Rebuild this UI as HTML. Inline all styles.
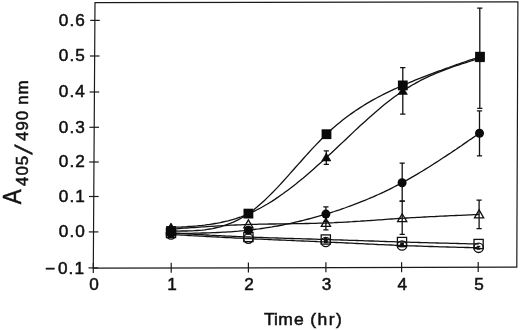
<!DOCTYPE html>
<html><head><meta charset="utf-8"><title>Figure</title>
<style>html,body{margin:0;padding:0;background:#fff}svg{display:block}text{font-family:"Liberation Sans",sans-serif;fill:#111;stroke:#111;stroke-width:0.5px}</style></head><body>
<svg width="520" height="330" viewBox="0 0 520 330">
<rect width="520" height="330" fill="#fff"/>
<g fill="none" stroke="#1a1a1a" stroke-width="1.2">
<path d="M95.0,2.6 L517.9,1.9 L516.8,267.1 L93.3,268.2 Z"/>
<path d="M90.2,20.4 H99.8"/>
<path d="M89.9,56.0 H99.5"/>
<path d="M89.6,92.0 H99.2"/>
<path d="M89.4,127.3 H99.0"/>
<path d="M89.2,162.0 H98.8"/>
<path d="M89.0,196.5 H98.6"/>
<path d="M88.8,231.9 H98.4"/>
<path d="M88.5,267.9 H98.1"/>
<path d="M93.3,263.1 V273.1"/>
<path d="M171.2,262.8 V272.8"/>
<path d="M248.4,262.6 V272.6"/>
<path d="M325.9,262.3 V272.3"/>
<path d="M401.6,262.2 V272.2"/>
<path d="M478.2,261.9 V271.9"/>
</g>
<g fill="none" stroke="#111" stroke-width="1.3" stroke-linejoin="round">
<path d="M171.0,233.0 L173.6,233.1 L176.2,233.3 L178.8,233.4 L181.3,233.6 L183.9,233.7 L186.5,233.9 L189.1,234.0 L191.7,234.2 L194.3,234.3 L196.8,234.5 L199.4,234.6 L202.0,234.7 L204.6,234.9 L207.2,235.0 L209.8,235.2 L212.4,235.3 L214.9,235.4 L217.5,235.6 L220.1,235.7 L222.7,235.8 L225.3,236.0 L227.9,236.1 L230.5,236.2 L233.0,236.3 L235.6,236.4 L238.2,236.6 L240.8,236.7 L243.4,236.8 L246.0,236.9 L248.5,237.0 L251.1,237.1 L253.7,237.2 L256.3,237.3 L258.9,237.4 L261.5,237.5 L264.1,237.6 L266.6,237.7 L269.2,237.8 L271.8,237.9 L274.4,237.9 L277.0,238.0 L279.6,238.1 L282.1,238.2 L284.7,238.3 L287.3,238.4 L289.9,238.4 L292.5,238.5 L295.1,238.6 L297.7,238.7 L300.2,238.7 L302.8,238.8 L305.4,238.9 L308.0,239.0 L310.6,239.0 L313.2,239.1 L315.8,239.2 L318.3,239.3 L320.9,239.4 L323.5,239.4 L326.1,239.5 L328.7,239.6 L331.3,239.7 L333.8,239.8 L336.4,239.8 L339.0,239.9 L341.6,240.0 L344.2,240.1 L346.8,240.2 L349.4,240.3 L351.9,240.4 L354.5,240.4 L357.1,240.5 L359.7,240.6 L362.3,240.7 L364.9,240.8 L367.5,240.9 L370.0,241.0 L372.6,241.0 L375.2,241.1 L377.8,241.2 L380.4,241.3 L383.0,241.4 L385.5,241.5 L388.1,241.6 L390.7,241.6 L393.3,241.7 L395.9,241.8 L398.5,241.9 L401.1,242.0 L403.6,242.0 L406.2,242.1 L408.8,242.2 L411.4,242.3 L414.0,242.4 L416.6,242.4 L419.1,242.5 L421.7,242.6 L424.3,242.6 L426.9,242.7 L429.5,242.8 L432.1,242.8 L434.7,242.9 L437.2,243.0 L439.8,243.1 L442.4,243.1 L445.0,243.2 L447.6,243.2 L450.2,243.3 L452.8,243.4 L455.3,243.4 L457.9,243.5 L460.5,243.6 L463.1,243.6 L465.7,243.7 L468.3,243.8 L470.8,243.8 L473.4,243.9 L476.0,243.9 L478.6,244.0"/>
<path d="M171.0,234.5 L173.6,234.6 L176.2,234.8 L178.8,234.9 L181.3,235.1 L183.9,235.2 L186.5,235.4 L189.1,235.5 L191.7,235.7 L194.3,235.8 L196.8,235.9 L199.4,236.1 L202.0,236.2 L204.6,236.4 L207.2,236.5 L209.8,236.6 L212.4,236.8 L214.9,236.9 L217.5,237.0 L220.1,237.2 L222.7,237.3 L225.3,237.5 L227.9,237.6 L230.5,237.7 L233.0,237.8 L235.6,238.0 L238.2,238.1 L240.8,238.2 L243.4,238.4 L246.0,238.5 L248.5,238.6 L251.1,238.7 L253.7,238.8 L256.3,239.0 L258.9,239.1 L261.5,239.2 L264.1,239.3 L266.6,239.4 L269.2,239.5 L271.8,239.7 L274.4,239.8 L277.0,239.9 L279.6,240.0 L282.1,240.1 L284.7,240.2 L287.3,240.3 L289.9,240.4 L292.5,240.5 L295.1,240.7 L297.7,240.8 L300.2,240.9 L302.8,241.0 L305.4,241.1 L308.0,241.2 L310.6,241.3 L313.2,241.4 L315.8,241.5 L318.3,241.7 L320.9,241.8 L323.5,241.9 L326.1,242.0 L328.7,242.1 L331.3,242.3 L333.8,242.4 L336.4,242.5 L339.0,242.6 L341.6,242.7 L344.2,242.9 L346.8,243.0 L349.4,243.1 L351.9,243.2 L354.5,243.4 L357.1,243.5 L359.7,243.6 L362.3,243.7 L364.9,243.9 L367.5,244.0 L370.0,244.1 L372.6,244.2 L375.2,244.3 L377.8,244.5 L380.4,244.6 L383.0,244.7 L385.5,244.8 L388.1,244.9 L390.7,245.0 L393.3,245.1 L395.9,245.3 L398.5,245.4 L401.1,245.5 L403.6,245.6 L406.2,245.7 L408.8,245.8 L411.4,245.9 L414.0,245.9 L416.6,246.0 L419.1,246.1 L421.7,246.2 L424.3,246.3 L426.9,246.4 L429.5,246.5 L432.1,246.5 L434.7,246.6 L437.2,246.7 L439.8,246.8 L442.4,246.8 L445.0,246.9 L447.6,247.0 L450.2,247.1 L452.8,247.1 L455.3,247.2 L457.9,247.3 L460.5,247.3 L463.1,247.4 L465.7,247.5 L468.3,247.5 L470.8,247.6 L473.4,247.7 L476.0,247.7 L478.6,247.8"/>
<path d="M171.0,229.2 L173.6,229.0 L176.2,228.8 L178.8,228.6 L181.4,228.4 L183.9,228.2 L186.5,228.0 L189.1,227.9 L191.7,227.7 L194.3,227.5 L196.9,227.3 L199.5,227.1 L202.1,226.9 L204.7,226.8 L207.2,226.6 L209.8,226.4 L212.4,226.3 L215.0,226.1 L217.6,225.9 L220.2,225.8 L222.8,225.6 L225.4,225.5 L228.0,225.4 L230.5,225.2 L233.1,225.1 L235.7,225.0 L238.3,224.9 L240.9,224.8 L243.5,224.7 L246.1,224.6 L248.7,224.5 L251.3,224.4 L253.9,224.3 L256.4,224.3 L259.0,224.2 L261.6,224.2 L264.2,224.1 L266.8,224.1 L269.4,224.0 L272.0,224.0 L274.6,224.0 L277.2,223.9 L279.7,223.9 L282.3,223.9 L284.9,223.8 L287.5,223.8 L290.1,223.8 L292.7,223.7 L295.3,223.7 L297.9,223.7 L300.5,223.6 L303.0,223.6 L305.6,223.5 L308.2,223.5 L310.8,223.4 L313.4,223.4 L316.0,223.3 L318.6,223.2 L321.2,223.2 L323.8,223.1 L326.3,223.0 L328.9,222.9 L331.5,222.8 L334.1,222.7 L336.7,222.5 L339.3,222.4 L341.9,222.3 L344.5,222.1 L347.1,222.0 L349.6,221.8 L352.2,221.7 L354.8,221.5 L357.4,221.3 L360.0,221.2 L362.6,221.0 L365.2,220.8 L367.8,220.6 L370.4,220.5 L372.9,220.3 L375.5,220.1 L378.1,219.9 L380.7,219.8 L383.3,219.6 L385.9,219.4 L388.5,219.2 L391.1,219.0 L393.7,218.9 L396.2,218.7 L398.8,218.5 L401.4,218.3 L404.0,218.2 L406.6,218.0 L409.2,217.9 L411.8,217.7 L414.4,217.6 L417.0,217.4 L419.6,217.3 L422.1,217.1 L424.7,217.0 L427.3,216.9 L429.9,216.7 L432.5,216.6 L435.1,216.5 L437.7,216.3 L440.3,216.2 L442.9,216.1 L445.4,216.0 L448.0,215.9 L450.6,215.7 L453.2,215.6 L455.8,215.5 L458.4,215.4 L461.0,215.3 L463.6,215.2 L466.2,215.1 L468.7,214.9 L471.3,214.8 L473.9,214.7 L476.5,214.6 L479.1,214.5"/>
<path d="M171.0,233.5 L173.6,233.5 L176.2,233.5 L178.8,233.4 L181.4,233.4 L184.0,233.4 L186.6,233.3 L189.1,233.3 L191.7,233.3 L194.3,233.2 L196.9,233.2 L199.5,233.1 L202.1,233.0 L204.7,233.0 L207.3,232.9 L209.9,232.8 L212.5,232.7 L215.1,232.6 L217.7,232.5 L220.3,232.4 L222.8,232.2 L225.4,232.1 L228.0,231.9 L230.6,231.8 L233.2,231.6 L235.8,231.4 L238.4,231.2 L241.0,230.9 L243.6,230.7 L246.2,230.4 L248.8,230.2 L251.4,229.9 L254.0,229.5 L256.6,229.2 L259.1,228.9 L261.7,228.5 L264.3,228.1 L266.9,227.7 L269.5,227.3 L272.1,226.9 L274.7,226.4 L277.3,226.0 L279.9,225.5 L282.5,225.0 L285.1,224.4 L287.7,223.9 L290.3,223.4 L292.8,222.8 L295.4,222.2 L298.0,221.6 L300.6,221.0 L303.2,220.4 L305.8,219.7 L308.4,219.0 L311.0,218.3 L313.6,217.6 L316.2,216.9 L318.8,216.2 L321.4,215.4 L324.0,214.7 L326.5,213.9 L329.1,213.1 L331.7,212.3 L334.3,211.5 L336.9,210.6 L339.5,209.8 L342.1,208.9 L344.7,208.0 L347.3,207.0 L349.9,206.1 L352.5,205.2 L355.1,204.2 L357.7,203.2 L360.2,202.2 L362.8,201.1 L365.4,200.1 L368.0,199.0 L370.6,197.9 L373.2,196.8 L375.8,195.6 L378.4,194.5 L381.0,193.3 L383.6,192.1 L386.2,190.8 L388.8,189.6 L391.4,188.3 L393.9,187.0 L396.5,185.6 L399.1,184.3 L401.7,182.9 L404.3,181.5 L406.9,180.1 L409.5,178.6 L412.1,177.1 L414.7,175.6 L417.3,174.1 L419.9,172.5 L422.5,171.0 L425.1,169.4 L427.7,167.8 L430.2,166.2 L432.8,164.5 L435.4,162.9 L438.0,161.2 L440.6,159.5 L443.2,157.8 L445.8,156.1 L448.4,154.4 L451.0,152.7 L453.6,150.9 L456.2,149.2 L458.8,147.4 L461.4,145.7 L463.9,143.9 L466.5,142.1 L469.1,140.3 L471.7,138.6 L474.3,136.8 L476.9,135.0 L479.5,133.2"/>
<path d="M171.0,227.5 L173.6,227.4 L176.2,227.2 L178.8,227.1 L181.4,227.0 L184.0,226.8 L186.6,226.7 L189.2,226.5 L191.8,226.3 L194.4,226.1 L196.9,225.9 L199.5,225.6 L202.1,225.4 L204.7,225.1 L207.3,224.7 L209.9,224.4 L212.5,224.0 L215.1,223.5 L217.7,223.1 L220.3,222.6 L222.9,222.0 L225.5,221.4 L228.1,220.8 L230.7,220.1 L233.3,219.4 L235.9,218.6 L238.5,217.7 L241.1,216.8 L243.7,215.8 L246.3,214.8 L248.8,213.7 L251.4,212.5 L254.0,211.3 L256.6,210.0 L259.2,208.7 L261.8,207.3 L264.4,205.8 L267.0,204.3 L269.6,202.7 L272.2,201.1 L274.8,199.4 L277.4,197.6 L280.0,195.8 L282.6,194.0 L285.2,192.1 L287.8,190.2 L290.4,188.3 L293.0,186.2 L295.6,184.2 L298.2,182.1 L300.7,180.0 L303.3,177.9 L305.9,175.7 L308.5,173.5 L311.1,171.2 L313.7,168.9 L316.3,166.6 L318.9,164.3 L321.5,162.0 L324.1,159.6 L326.7,157.2 L329.3,154.8 L331.9,152.4 L334.5,150.0 L337.1,147.5 L339.7,145.1 L342.3,142.6 L344.9,140.2 L347.5,137.7 L350.1,135.3 L352.6,132.9 L355.2,130.4 L357.8,128.0 L360.4,125.6 L363.0,123.2 L365.6,120.9 L368.2,118.5 L370.8,116.2 L373.4,113.9 L376.0,111.7 L378.6,109.5 L381.2,107.3 L383.8,105.1 L386.4,103.0 L389.0,101.0 L391.6,99.0 L394.2,97.0 L396.8,95.2 L399.4,93.3 L402.0,91.5 L404.5,89.8 L407.1,88.2 L409.7,86.6 L412.3,85.0 L414.9,83.6 L417.5,82.1 L420.1,80.7 L422.7,79.4 L425.3,78.1 L427.9,76.9 L430.5,75.7 L433.1,74.6 L435.7,73.4 L438.3,72.4 L440.9,71.3 L443.5,70.3 L446.1,69.3 L448.7,68.4 L451.3,67.4 L453.9,66.5 L456.4,65.6 L459.0,64.8 L461.6,63.9 L464.2,63.1 L466.8,62.3 L469.4,61.5 L472.0,60.7 L474.6,59.9 L477.2,59.1 L479.8,58.3"/>
<path d="M171.0,231.0 L173.6,231.0 L176.2,231.0 L178.8,231.1 L181.4,231.0 L184.0,231.0 L186.6,231.0 L189.2,230.9 L191.8,230.8 L194.4,230.7 L197.0,230.5 L199.6,230.3 L202.2,230.1 L204.8,229.8 L207.4,229.4 L209.9,229.0 L212.5,228.6 L215.1,228.0 L217.7,227.4 L220.3,226.8 L222.9,226.0 L225.5,225.2 L228.1,224.2 L230.7,223.2 L233.3,222.1 L235.9,220.9 L238.5,219.6 L241.1,218.2 L243.7,216.7 L246.3,215.0 L248.9,213.3 L251.5,211.4 L254.1,209.4 L256.7,207.3 L259.3,205.1 L261.9,202.8 L264.5,200.4 L267.1,197.9 L269.7,195.4 L272.3,192.8 L274.9,190.1 L277.5,187.4 L280.1,184.6 L282.7,181.8 L285.3,178.9 L287.8,176.1 L290.4,173.1 L293.0,170.2 L295.6,167.3 L298.2,164.4 L300.8,161.5 L303.4,158.5 L306.0,155.6 L308.6,152.8 L311.2,149.9 L313.8,147.1 L316.4,144.4 L319.0,141.7 L321.6,139.0 L324.2,136.4 L326.8,133.9 L329.4,131.5 L332.0,129.1 L334.6,126.8 L337.2,124.6 L339.8,122.4 L342.4,120.3 L345.0,118.3 L347.6,116.3 L350.2,114.4 L352.8,112.6 L355.4,110.8 L358.0,109.1 L360.6,107.4 L363.2,105.7 L365.7,104.1 L368.3,102.6 L370.9,101.1 L373.5,99.6 L376.1,98.2 L378.7,96.8 L381.3,95.5 L383.9,94.2 L386.5,92.9 L389.1,91.6 L391.7,90.4 L394.3,89.2 L396.9,88.0 L399.5,86.8 L402.1,85.7 L404.7,84.6 L407.3,83.5 L409.9,82.4 L412.5,81.3 L415.1,80.2 L417.7,79.2 L420.3,78.2 L422.9,77.1 L425.5,76.1 L428.1,75.1 L430.7,74.1 L433.3,73.2 L435.9,72.2 L438.5,71.2 L441.1,70.3 L443.6,69.3 L446.2,68.4 L448.8,67.5 L451.4,66.5 L454.0,65.6 L456.6,64.7 L459.2,63.8 L461.8,62.9 L464.4,62.0 L467.0,61.1 L469.6,60.2 L472.2,59.4 L474.8,58.5 L477.4,57.6 L480.0,56.7"/>
</g>
<g fill="none" stroke="#111" stroke-width="1.3">
<path d="M326.3,150.8 V164.4 M323.7,150.8 H328.9 M323.7,164.4 H328.9"/>
<path d="M325.9,206.8 V221.4 M323.3,206.8 H328.5 M323.3,221.4 H328.5"/>
<path d="M325.9,216.1 V229.9 M323.3,216.1 H328.5 M323.3,229.9 H328.5"/>
<path d="M325.8,238.5 V242.5 M324.0,238.5 H327.6 M324.0,242.5 H327.6"/>
<path d="M402.8,67.7 V114.1 M400.1,67.7 H405.4 M400.1,114.1 H405.4"/>
<path d="M402.2,163.1 V201.2 M399.6,163.1 H404.8 M399.6,201.2 H404.8"/>
<path d="M402.2,201.2 V234.3 M399.6,201.2 H404.8 M399.6,234.3 H404.8"/>
<path d="M402.1,243.5 V246.5 M400.3,243.5 H403.9 M400.3,246.5 H403.9"/>
<path d="M479.8,8.2 V108.4 M477.2,8.2 H482.4 M477.2,108.4 H482.4"/>
<path d="M479.5,110.9 V155.9 M476.9,110.9 H482.1 M476.9,155.9 H482.1"/>
<path d="M479.1,200.2 V228.6 M476.5,200.2 H481.7 M476.5,228.6 H481.7"/>
<path d="M478.5,246.5 V249.0 M476.7,246.5 H480.3 M476.7,249.0 H480.3"/>
</g>
<rect x="166.4" y="228.4" width="9.2" height="9.2" fill="none" stroke="#111" stroke-width="1.3"/>
<circle cx="171.0" cy="234.5" r="4.7" fill="none" stroke="#111" stroke-width="1.3"/>
<polygon points="171.0,224.6 175.6,232.6 166.4,232.6" fill="none" stroke="#111" stroke-width="1.3"/>
<circle cx="171.0" cy="233.5" r="4.5" fill="#0a0a0a"/>
<polygon points="171.0,222.9 175.6,230.9 166.4,230.9" fill="#0a0a0a" stroke="#0a0a0a" stroke-width="0.6" stroke-linejoin="round"/>
<rect x="166.1" y="226.1" width="9.8" height="9.8" fill="#0a0a0a"/>
<rect x="243.8" y="232.4" width="9.2" height="9.2" fill="none" stroke="#111" stroke-width="1.3"/>
<circle cx="248.4" cy="238.6" r="4.7" fill="none" stroke="#111" stroke-width="1.3"/>
<polygon points="248.4,219.9 253.0,227.9 243.8,227.9" fill="none" stroke="#111" stroke-width="1.3"/>
<circle cx="248.4" cy="230.2" r="4.5" fill="#0a0a0a"/>
<polygon points="248.4,209.3 253.0,217.3 243.8,217.3" fill="#0a0a0a" stroke="#0a0a0a" stroke-width="0.6" stroke-linejoin="round"/>
<rect x="243.5" y="208.7" width="9.8" height="9.8" fill="#0a0a0a"/>
<rect x="321.2" y="234.9" width="9.2" height="9.2" fill="none" stroke="#111" stroke-width="1.3"/>
<circle cx="325.8" cy="242.0" r="4.7" fill="none" stroke="#111" stroke-width="1.3"/>
<polygon points="325.9,218.4 330.5,226.4 321.3,226.4" fill="none" stroke="#111" stroke-width="1.3"/>
<circle cx="325.9" cy="214.1" r="4.5" fill="#0a0a0a"/>
<polygon points="326.3,153.0 330.9,161.0 321.7,161.0" fill="#0a0a0a" stroke="#0a0a0a" stroke-width="0.6" stroke-linejoin="round"/>
<rect x="321.6" y="129.3" width="9.8" height="9.8" fill="#0a0a0a"/>
<rect x="397.4" y="237.4" width="9.2" height="9.2" fill="none" stroke="#111" stroke-width="1.3"/>
<circle cx="402.0" cy="245.5" r="4.7" fill="none" stroke="#111" stroke-width="1.3"/>
<polygon points="402.2,213.7 406.8,221.7 397.6,221.7" fill="none" stroke="#111" stroke-width="1.3"/>
<circle cx="402.1" cy="182.7" r="4.5" fill="#0a0a0a"/>
<polygon points="402.8,86.4 407.4,94.4 398.1,94.4" fill="#0a0a0a" stroke="#0a0a0a" stroke-width="0.6" stroke-linejoin="round"/>
<rect x="397.9" y="80.5" width="9.8" height="9.8" fill="#0a0a0a"/>
<rect x="474.0" y="239.4" width="9.2" height="9.2" fill="none" stroke="#111" stroke-width="1.3"/>
<circle cx="478.6" cy="247.8" r="4.7" fill="none" stroke="#111" stroke-width="1.3"/>
<polygon points="479.1,209.9 483.7,217.9 474.5,217.9" fill="none" stroke="#111" stroke-width="1.3"/>
<circle cx="479.5" cy="133.2" r="4.5" fill="#0a0a0a"/>
<polygon points="479.8,53.7 484.4,61.7 475.2,61.7" fill="#0a0a0a" stroke="#0a0a0a" stroke-width="0.6" stroke-linejoin="round"/>
<rect x="475.1" y="51.8" width="9.8" height="9.8" fill="#0a0a0a"/>
<ellipse cx="325.8" cy="241.0" rx="2.2" ry="1.8" fill="#111"/>
<ellipse cx="402.0" cy="244.6" rx="2.0" ry="1.4" fill="#111"/>
<text transform="translate(86.0 25.7) scale(1.08 1)" font-size="15.9" letter-spacing="1.05" text-anchor="end">0.6</text>
<text transform="translate(86.0 61.3) scale(1.08 1)" font-size="15.9" letter-spacing="1.05" text-anchor="end">0.5</text>
<text transform="translate(86.0 97.3) scale(1.08 1)" font-size="15.9" letter-spacing="1.05" text-anchor="end">0.4</text>
<text transform="translate(86.0 132.6) scale(1.08 1)" font-size="15.9" letter-spacing="1.05" text-anchor="end">0.3</text>
<text transform="translate(86.0 167.3) scale(1.08 1)" font-size="15.9" letter-spacing="1.05" text-anchor="end">0.2</text>
<text transform="translate(86.0 201.8) scale(1.08 1)" font-size="15.9" letter-spacing="1.05" text-anchor="end">0.1</text>
<text transform="translate(86.0 237.2) scale(1.08 1)" font-size="15.9" letter-spacing="1.05" text-anchor="end">0.0</text>
<text transform="translate(86.9 273.6) scale(1.08 1)" font-size="15.9" letter-spacing="1.05" text-anchor="end"><tspan dx="-1.6">−</tspan><tspan dx="1.6">0.1</tspan></text>
<text transform="translate(94.6 290.3) scale(1.08 1)" font-size="15.9" letter-spacing="1.05" text-anchor="middle">0</text>
<text transform="translate(172.5 290.3) scale(1.08 1)" font-size="15.9" letter-spacing="1.05" text-anchor="middle">1</text>
<text transform="translate(249.7 290.3) scale(1.08 1)" font-size="15.9" letter-spacing="1.05" text-anchor="middle">2</text>
<text transform="translate(327.2 290.3) scale(1.08 1)" font-size="15.9" letter-spacing="1.05" text-anchor="middle">3</text>
<text transform="translate(402.9 290.3) scale(1.08 1)" font-size="15.9" letter-spacing="1.05" text-anchor="middle">4</text>
<text transform="translate(479.5 290.3) scale(1.08 1)" font-size="15.9" letter-spacing="1.05" text-anchor="middle">5</text>
<text transform="scale(1.08 1)" font-size="16.2" y="325" x="244.35 253.80 257.59 272.22 288.89 287.31 294.07 304.44 311.20">Time (hr)</text>
<g transform="translate(20.8,204.2) rotate(-90)">
<text font-size="25.5" transform="scale(0.875 1)" x="0" y="0">A</text><text font-size="16" letter-spacing="0.9" transform="translate(18.3 6.8) scale(1.05 1)">405</text><text font-size="23.8" stroke-width="0" transform="translate(49.4 10.9) skewX(-12)">/</text><text font-size="16" letter-spacing="0.9" transform="translate(63.5 7.2) scale(1.05 1)">490<tspan dx="-0.5"> nm</tspan></text>
</g>
</svg></body></html>
